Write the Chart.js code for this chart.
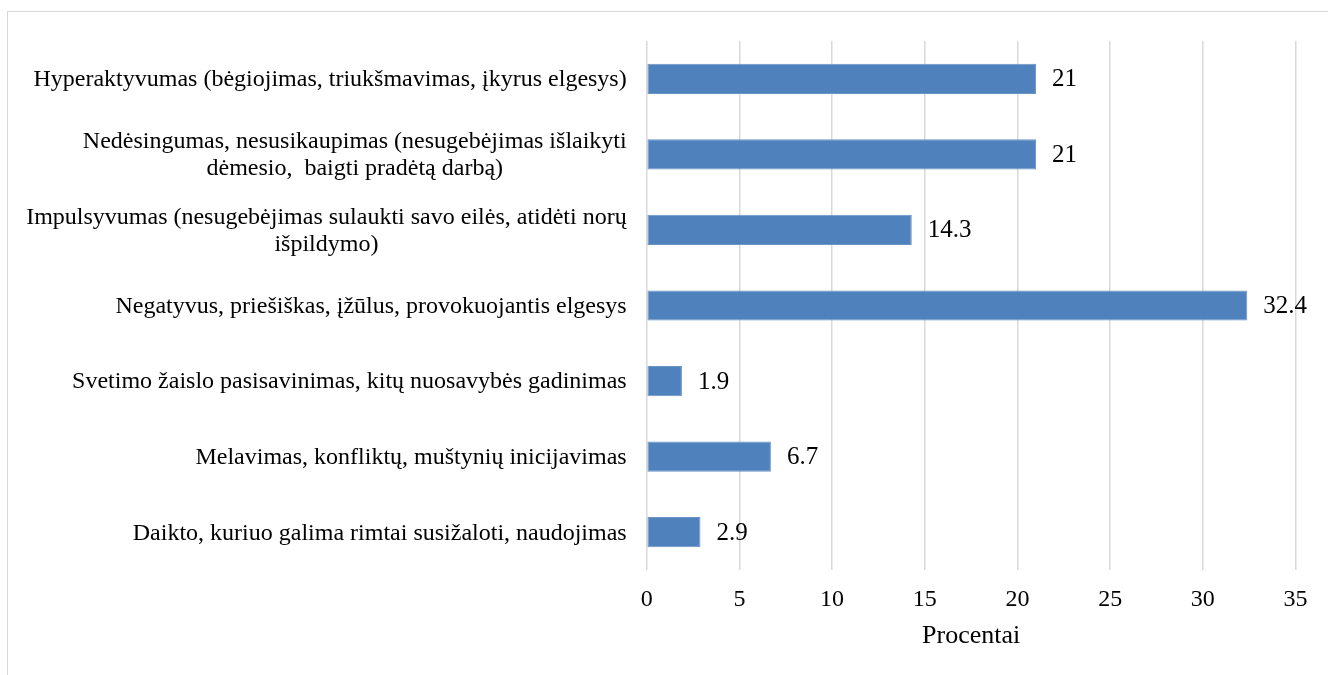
<!DOCTYPE html>
<html>
<head>
<meta charset="utf-8">
<script src="https://cdn.jsdelivr.net/npm/chart.js@4.4.1/dist/chart.umd.min.js"></script>
<style>
  html, body { margin: 0; padding: 0; background: #fff; }
  #wrap { position: relative; width: 1328px; height: 675px; overflow: hidden; }
  #frame { position: absolute; left: 7px; top: 11px; width: 1400px; height: 800px; border: 1px solid #d9d9d9; }
  #chart { position: absolute; left: 0; top: 0; }
</style>
</head>
<body>
<div id="wrap">
  <div id="frame"></div>
  <canvas id="chart" width="1328" height="675"></canvas>
</div>
<script>
const categories = [
  ["Hyperaktyvumas (bėgiojimas, triukšmavimas, įkyrus elgesys)"],
  ["Nedėsingumas, nesusikaupimas (nesugebėjimas išlaikyti", "dėmesio,  baigti pradėtą darbą)"],
  ["Impulsyvumas (nesugebėjimas sulaukti savo eilės, atidėti norų", "išpildymo)"],
  ["Negatyvus, priešiškas, įžūlus, provokuojantis elgesys"],
  ["Svetimo žaislo pasisavinimas, kitų nuosavybės gadinimas"],
  ["Melavimas, konfliktų, muštynių inicijavimas"],
  ["Daikto, kuriuo galima rimtai susižaloti, naudojimas"]
];
const values = [21, 21, 14.3, 32.4, 1.9, 6.7, 2.9];
const axisTitle = "Procentai";
const axisMin = 0;
const axisMax = 35;
const axisStep = 5;

const FONT = '"Liberation Serif", "Times New Roman", serif';

/*
 CATEGORY LABELS (right aligned block, lines centred inside it)
*/
const categoryLabels = {
  id: "categoryLabels",
  afterDraw(chart) {
    const ctx = chart.ctx;
    const yScale = chart.scales.y;
    const right = chart.chartArea.left - 20;
    const lineH = 27;
    ctx.save();
    ctx.font = "24px " + FONT;
    ctx.fillStyle = "#000";
    ctx.textBaseline = "middle";
    ctx.textAlign = "center";
    categories.forEach((lines, i) => {
      const cy = yScale.getPixelForValue(i) + 1;
      const maxW = Math.max(...lines.map(l => ctx.measureText(l).width));
      const cx = right - maxW / 2;
      lines.forEach((line, j) => {
        ctx.fillText(line, cx, cy + (j - (lines.length - 1) / 2) * lineH);
      });
    });
    ctx.restore();
  }
};

/*
 VALUE LABELS
*/
const valueLabels = {
  id: "valueLabels",
  afterDatasetsDraw(chart) {
    const ctx = chart.ctx;
    const meta = chart.getDatasetMeta(0);
    ctx.save();
    ctx.font = "25px " + FONT;
    ctx.fillStyle = "#000";
    ctx.textBaseline = "middle";
    ctx.textAlign = "left";
    meta.data.forEach((bar, i) => {
      ctx.fillText(String(values[i]), bar.x + 16, bar.y + 1);
    });
    ctx.restore();
  }
};

new Chart(document.getElementById("chart"), {
  type: "bar",
  data: {
    labels: categories,
    datasets: [
      {
        data: values,
        backgroundColor: "#4f81bd",
        borderColor: "#6a93c6",
        borderWidth: 1,
        borderSkipped: false,
        barPercentage: 0.4,
        categoryPercentage: 1
      }
    ]
  },
  options: {
    indexAxis: "y",
    responsive: false,
    animation: false,
    devicePixelRatio: 1,
    layout: {
      padding: { top: 41, right: 32.5, bottom: 0, left: 0 }
    },
    plugins: {
      legend: { display: false },
      tooltip: { enabled: false }
    },
    scales: {
      x: {
        min: axisMin,
        max: axisMax,
        ticks: {
          stepSize: axisStep,
          padding: 15.6,
          color: "#000",
          font: { family: FONT, size: 24 }
        },
        grid: {
          color: "#d9d9d9",
          lineWidth: 1.5,
          drawTicks: false
        },
        border: { display: false },
        title: {
          display: true,
          text: axisTitle,
          color: "#000",
          font: { family: FONT, size: 26 },
          padding: { top: 6, bottom: 23 }
        },
        afterFit(scale) {
          scale.height = 105;
        }
      },
      y: {
        ticks: { display: false },
        grid: { display: false },
        border: { display: false },
        afterFit(scale) {
          scale.width = 646.7;
        }
      }
    }
  },
  plugins: [categoryLabels, valueLabels]
});
</script>
</body>
</html>
